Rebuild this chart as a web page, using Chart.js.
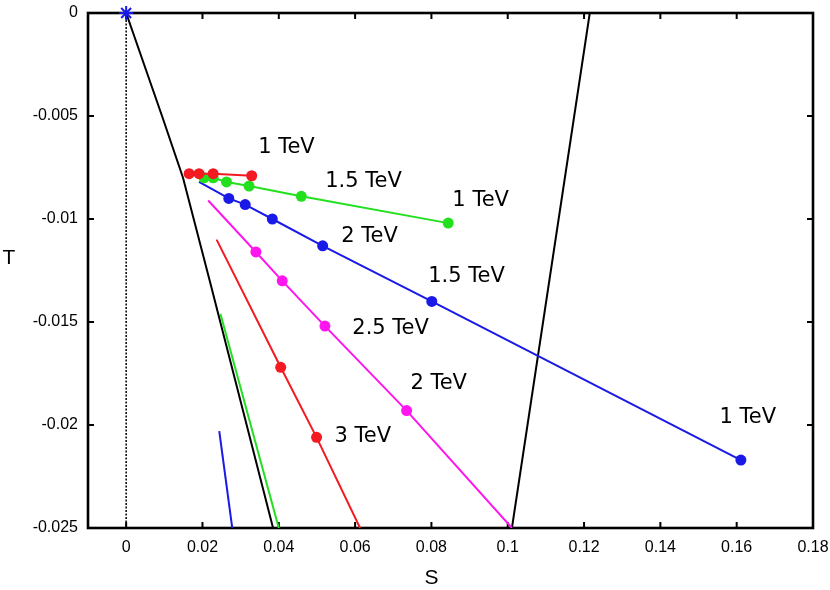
<!DOCTYPE html>
<html>
<head>
<meta charset="utf-8">
<script src="https://cdn.jsdelivr.net/npm/chart.js@4.4.1/dist/chart.umd.min.js"></script>
<style>body{margin:0;background:#fff}</style>
</head>
<body>
<canvas id="grafico" width="830" height="590"></canvas>
<script>
// ticks
const xTicks = [0, 0.02, 0.04, 0.06, 0.08, 0.1, 0.12, 0.14, 0.16, 0.18];
const yTicks = [0, -0.005, -0.01, -0.015, -0.02, -0.025];

// black boundary lines
const bordeIzqS = [0, 0.0094, 0.0149, 0.0219, 0.0385];
const bordeIzqT = [0, -0.005, -0.0080, -0.0130, -0.025];
const bordeDerS = [0.1011, 0.1215];
const bordeDerT = [-0.025, 0];

// coloured series (S, T)
const rojoS = [0.0165, 0.0191, 0.0228, 0.0329];
const rojoT = [-0.0078, -0.0078, -0.0078, -0.0079];
const verdeS = [0.0204, 0.0228, 0.0263, 0.0322, 0.0459, 0.0844];
const verdeT = [-0.0080, -0.0080, -0.0082, -0.0084, -0.0089, -0.0102];
const azulS = [0.0191, 0.0269, 0.0312, 0.0383, 0.0515, 0.0801, 0.1611];
const azulT = [-0.0082, -0.0090, -0.0093, -0.0100, -0.0113, -0.0140, -0.0217];
const magentaS = [0.0215, 0.0340, 0.0409, 0.0521, 0.0735, 0.1011];
const magentaT = [-0.0091, -0.0116, -0.0130, -0.0152, -0.0193, -0.0250];
const rojo2S = [0.0237, 0.0405, 0.0499, 0.0613];
const rojo2T = [-0.0110, -0.0172, -0.0206, -0.0250];
const verde2S = [0.0247, 0.0400];
const verde2T = [-0.0146, -0.0250];
const azul2S = [0.0244, 0.0278];
const azul2T = [-0.0203, -0.0250];

// labels
const etiquetas = ['1 TeV', '1.5 TeV', '1 TeV', '2 TeV', '1.5 TeV', '1 TeV', '2.5 TeV', '2 TeV', '3 TeV'];
const etiquetaS = [0.0420, 0.0622, 0.0929, 0.0638, 0.0892, 0.1629, 0.0693, 0.0819, 0.0620];
const etiquetaT = [-0.00655, -0.0082, -0.00908, -0.01087, -0.01277, -0.01966, -0.01534, -0.01801, -0.02058];

const ROJO = '#f41a22';
const VERDE = '#22e01e';
const AZUL = '#1a1ae8';
const MAGENTA = '#ff16ee';

const pts = (s, t) => s.map((v, i) => ({x: v, y: t[i]}));

function serie(s, t, color, sinPunto, ancho) {
    return {
        data: pts(s, t),
        showLine: true,
        borderColor: color,
        backgroundColor: color,
        borderWidth: ancho || 2,
        pointBackgroundColor: color,
        pointBorderWidth: 0,
        pointRadius: (c) => sinPunto === true || (sinPunto || []).includes(c.dataIndex) ? 0 : 5.5,
        pointHoverRadius: 0
    };
}

const sinPadding = s => {
    s.paddingLeft = 0; s.paddingRight = 0; s.paddingTop = 0; s.paddingBottom = 0;
};

const marco = {
    id: 'marco',
    beforeDatasetsDraw(chart) {
        const {ctx, chartArea: a, scales: {x, y}} = chart;
        ctx.save();
        ctx.strokeStyle = '#000';
        ctx.lineWidth = 2;
        ctx.beginPath();
        xTicks.forEach(v => {
            const p = x.getPixelForValue(v);
            ctx.moveTo(p, a.bottom); ctx.lineTo(p, a.bottom - 6);
            ctx.moveTo(p, a.top); ctx.lineTo(p, a.top + 6);
        });
        yTicks.forEach(v => {
            const p = y.getPixelForValue(v);
            ctx.moveTo(a.left, p); ctx.lineTo(a.left + 6, p);
            ctx.moveTo(a.right, p); ctx.lineTo(a.right - 6, p);
        });
        ctx.stroke();
        ctx.lineWidth = 2.6;
        ctx.strokeRect(a.left, a.top, a.right - a.left, a.bottom - a.top);
        ctx.restore();
    },
    afterDatasetsDraw(chart) {
        const {ctx, chartArea: a, scales: {x, y}} = chart;
        ctx.save();
        ctx.fillStyle = '#000';
        ctx.textAlign = 'center';
        ctx.textBaseline = 'middle';
        ctx.font = '21px "DejaVu Sans"';
        etiquetas.forEach((txt, i) => {
            ctx.fillText(txt, x.getPixelForValue(etiquetaS[i]), y.getPixelForValue(etiquetaT[i]));
        });
        ctx.font = '21px "Liberation Sans"';
        ctx.fillText('S', x.getPixelForValue(0.08), 578);
        ctx.fillText('T', a.left - 79, y.getPixelForValue(-0.0119));
        ctx.restore();
    }
};

Chart.defaults.font.family = '"Liberation Sans"';
Chart.defaults.font.size = 16;
Chart.defaults.color = '#000';

const ctx = document.getElementById('grafico').getContext('2d');
const grafico = new Chart(ctx, {
    type: 'scatter',
    data: {
        datasets: [
            {
                data: [{x: 0, y: 0}],
                pointStyle: 'star',
                pointRadius: 7,
                pointBorderColor: AZUL,
                pointBorderWidth: 2,
                clip: false
            },
            serie(rojoS, rojoT, ROJO),
            serie(verdeS, verdeT, VERDE),
            serie(azulS, azulT, AZUL, [0]),
            serie(magentaS, magentaT, MAGENTA, [0, 5]),
            serie(rojo2S, rojo2T, ROJO, [0, 3]),
            serie(verde2S, verde2T, VERDE, true),
            serie(azul2S, azul2T, AZUL, true),
            serie(bordeIzqS, bordeIzqT, '#000', true),
            serie(bordeDerS, bordeDerT, '#000', true),
            Object.assign(serie([0, 0], [0, -0.025], '#000', true, 1.5), {borderDash: [2, 1.5]})
        ]
    },
    options: {
        responsive: false,
        animation: false,
        devicePixelRatio: 1,
        layout: {padding: {top: 13, right: 17, left: 0, bottom: 0}},
        plugins: {legend: {display: false}, tooltip: {enabled: false}},
        events: [],
        scales: {
            x: {
                type: 'linear',
                min: -0.01,
                max: 0.18,
                grid: {display: false, drawTicks: false},
                border: {display: false},
                afterBuildTicks: s => { s.ticks = xTicks.map(v => ({value: v})); },
                afterFit: s => { s.height = 62; sinPadding(s); },
                ticks: {padding: 10, autoSkip: false, maxRotation: 0, callback: v => String(v)}
            },
            y: {
                type: 'linear',
                min: -0.025,
                max: 0,
                grid: {display: false, drawTicks: false},
                border: {display: false},
                afterBuildTicks: s => { s.ticks = yTicks.map(v => ({value: v})); },
                afterFit: s => { s.width = 88; sinPadding(s); },
                ticks: {padding: 10, autoSkip: false, callback: v => String(v)}
            }
        }
    },
    plugins: [marco]
});
</script>
</body>
</html>
